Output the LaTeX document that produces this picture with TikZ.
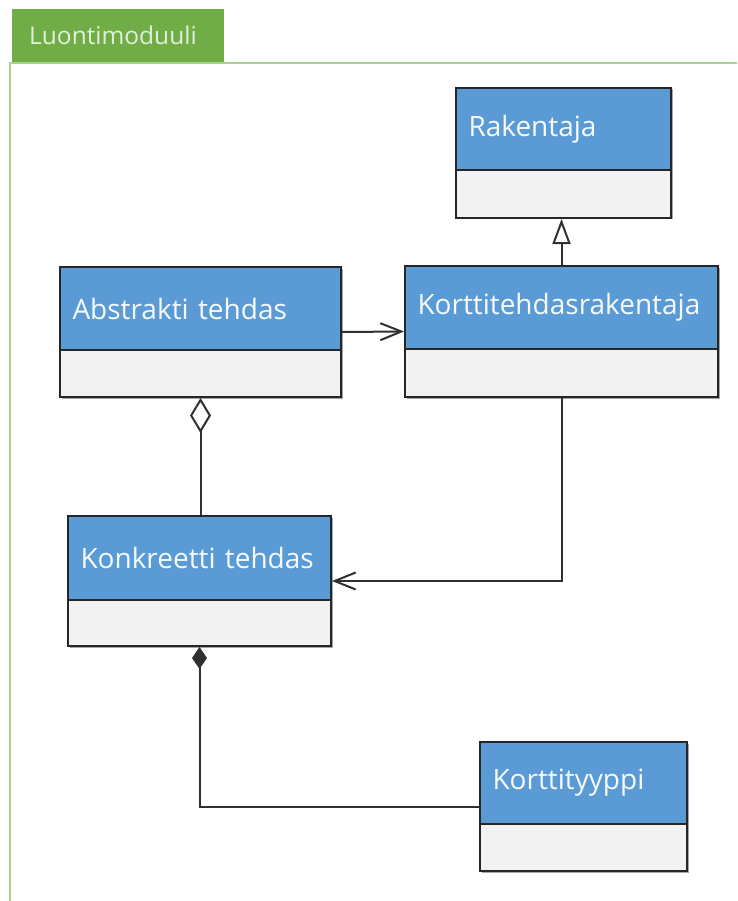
\documentclass[tikz,border=0pt]{standalone}
\usepackage{fontspec}
\setmainfont{Open Sans}
\usetikzlibrary{arrows.meta,shadows}

\definecolor{hdrblue}{HTML}{5B9BD5}
\definecolor{bodygray}{HTML}{F2F2F2}
\definecolor{pkggreen}{HTML}{70AD47}
\definecolor{pkgtext}{HTML}{E2EFDA}
\definecolor{framegreen}{HTML}{A9D18E}
\definecolor{edgecol}{HTML}{262626}
\definecolor{conncol}{HTML}{303030}

\tikzset{
  classbox/.style={draw=edgecol, line width=2pt, fill=bodygray, anchor=north west,
    inner sep=0pt,
    drop shadow={shadow xshift=1.5pt, shadow yshift=-1.5pt, opacity=0.35, fill=black}},
  classhead/.style={draw=edgecol, line width=2pt, fill=hdrblue, anchor=north west,
    inner xsep=12.5pt, inner ysep=0pt, align=left, text=white!95!hdrblue,
    font=\fontsize{28}{33}\selectfont},
  pkgtab/.style={fill=pkggreen, anchor=north west, inner xsep=17pt, inner ysep=0pt,
    align=left, text=pkgtext, font=\fontsize{24.5}{29}\selectfont},
  conn/.style={draw=conncol, line width=2pt},
  realize/.style={-{Triangle[open, length=25pt, width=18pt]}},
  assoc/.style={-{Straight Barb[length=21pt, width=17pt]}},
  aggr/.style={{Diamond[open, length=35pt, width=21pt]}-},
  compo/.style={{Diamond[length=22pt, width=15pt]}-},
}

% class box: name, left, top, width, height, header height, title
\newcommand\umlclass[7]{%
  \pgfmathsetmacro\umltw{#4-25}%
  \node[classbox, minimum width=#4pt, minimum height=#5pt] (#1) at (#2,#3) {};
  \node[classhead, text width=\umltw pt, minimum height=#6pt] (#1-head) at (#1.north west) {#7};
}

\begin{document}
\begin{tikzpicture}[x=1pt, y=-1pt]
  \useasboundingbox (0,0) rectangle (737,901);

  % package frame and tab
  \draw[framegreen, line width=2pt] (10,901) -- (10,63) -- (737,63);
  \node[pkgtab, minimum width=212pt, text width=178pt, minimum height=53pt] (pkg) at (12,9) {Luontimoduuli};

  % classes
  \umlclass{rak}{455}{87}{215}{130}{82}{Rakentaja}
  \umlclass{abs}{59}{266}{281}{130}{83}{Abstrakti tehdas}
  \umlclass{krb}{404}{265}{313}{131}{83}{Korttitehdasrakentaja}
  \umlclass{kon}{67}{515}{263}{130}{84}{Konkreetti tehdas}
  \umlclass{kt}{479}{741}{207}{129}{82}{Korttityyppi}

  % relations
  \draw[conn, realize] (krb.north) -- (krb.north |- rak.south);
  \draw[conn, assoc] (abs.east) -- (krb.west);
  \draw[conn, aggr] (abs.south) -- (abs.south |- kon.north);
  \draw[conn, assoc] (krb.south) |- (kon.east);
  \draw[conn, compo] (kon.south) |- (kt.west);
\end{tikzpicture}
\end{document}
